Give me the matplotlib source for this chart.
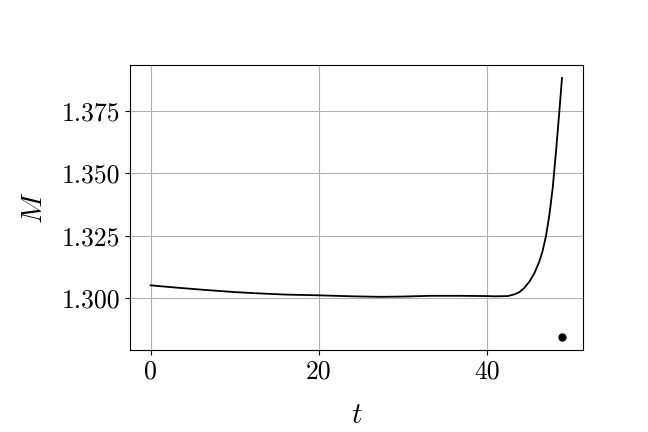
import matplotlib
matplotlib.use("Agg")
import matplotlib.pyplot as plt

plt.rcParams['font.family'] = 'serif'
plt.rcParams['font.serif'] = ['cmr10']
plt.rcParams['mathtext.fontset'] = 'cm'
plt.rcParams['axes.formatter.use_mathtext'] = True
plt.rcParams['axes.unicode_minus'] = False

t = [0, 3, 6.7, 10, 12.7, 16, 20, 24, 27.3, 30, 33.2, 37, 40, 41, 42.5,
     43.3, 43.9, 44.5, 45.1, 45.7, 46.25, 46.65, 47.06, 47.45, 47.84,
     48.24, 48.64, 48.95]
M = [1.3052, 1.3043, 1.3033, 1.3025, 1.3020, 1.3015, 1.3012, 1.3008, 1.3006,
     1.3007, 1.3010, 1.3010, 1.3009, 1.3008, 1.3009, 1.3016, 1.3025, 1.3043,
     1.3068, 1.3103, 1.3147, 1.3190, 1.3252, 1.3334, 1.3440, 1.3588, 1.3750,
     1.3882]
dot_t = [49.0]
dot_M = [1.2845]
xticks = [0, 20, 40]
yticks = [1.300, 1.325, 1.350, 1.375]

fig = plt.figure(figsize=(6.48, 4.32), dpi=100)
ax = fig.add_axes([130/648, 1 - 350/432, (583-130)/648, (350-65)/432])
ax.plot(t, M, color='black', lw=1.3)
ax.plot(dot_t, dot_M, 'o', color='black', ms=5)
ax.set_xticks(xticks)
ax.set_yticks(yticks)
ax.set_yticklabels([f"{v:.3f}" for v in yticks])
ax.set_xticklabels([str(v) for v in xticks])
ax.grid(True, color='#b0b0b0', lw=0.8)
ax.tick_params(labelsize=18.5)
ax.set_xlabel('$t$', fontsize=21, labelpad=14)
ax.set_ylabel('$M$', fontsize=21, labelpad=10)
for s in ax.spines.values():
    s.set_linewidth(0.8)
fig.savefig('out.png', dpi=100)
